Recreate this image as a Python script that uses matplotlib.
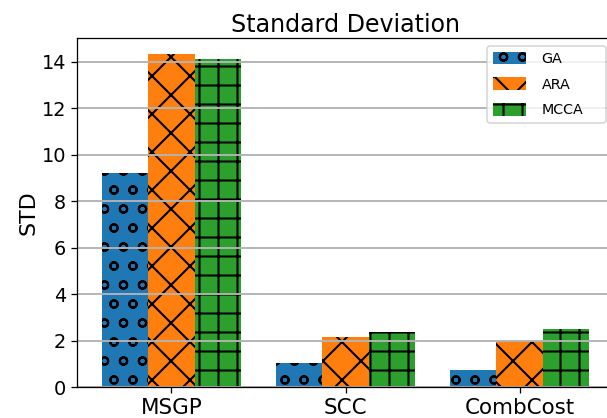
import matplotlib
matplotlib.use("Agg")
import matplotlib.pyplot as plt
import numpy as np

# Écart-type par métrique et par algorithme
categories = ["MSGP", "SCC", "CombCost"]
series = ["GA", "ARA", "MCCA"]
std_ga = [9.22, 1.03, 0.75]
std_ara = [14.32, 2.15, 1.98]
std_mcca = [14.12, 2.37, 2.51]

couleurs = ["#1f77b4", "#ff7f0e", "#2ca02c"]
motifs = ["o", "x", "+"]

plt.rcParams["hatch.linewidth"] = 1.3

fig = plt.figure(figsize=(607 / 114, 418 / 114), dpi=114)
ax = fig.add_axes([0.1274, 0.0734, 0.8837, 0.835])

x = np.arange(len(categories))
largeur = 0.8 / 3
valeurs = [std_ga, std_ara, std_mcca]
for i, (nom, vals) in enumerate(zip(series, valeurs)):
    ax.bar(x + (i - 1) * largeur, vals, largeur, color=couleurs[i],
           hatch=motifs[i], edgecolor="black", linewidth=0, label=nom)

ax.set_xticks(x)
ax.set_xticklabels(categories, fontsize=13.5)
ax.tick_params(axis="y", labelsize=12.2)
ax.set_ylim(0, 15)
ax.set_yticks(range(0, 15, 2))
ax.set_xlim(-0.54, 2.54)
ax.yaxis.grid(True, color="#b4b4b4", linewidth=1.2)
ax.set_ylabel("STD", fontsize=14, labelpad=2)
ax.set_title("Standard Deviation", fontsize=15, pad=4)

# Légende élargie dans le coin haut droit
ax.legend(loc="upper left", bbox_to_anchor=(0.7644, 0, 0.2213, 0.978),
          mode="expand", borderaxespad=0, fontsize=9, handlelength=2.3,
          handleheight=1.0, handletextpad=1.1, labelspacing=0.8)

fig.savefig("out.png", dpi=114)
